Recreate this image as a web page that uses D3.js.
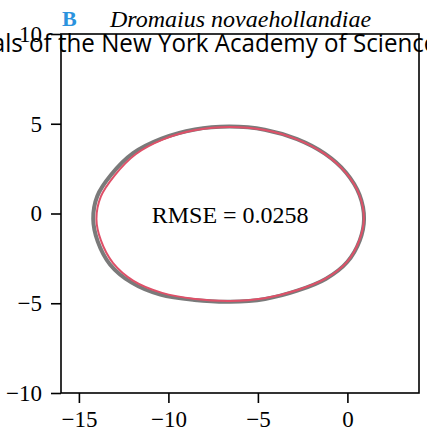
<!DOCTYPE html>
<html>
<head>
<meta charset="utf-8">
<script src="https://cdn.jsdelivr.net/npm/d3@7"></script>
<style>
  html, body { margin: 0; padding: 0; background: #fff; }
  svg { display: block; }
</style>
</head>
<body>
<svg id="chart" width="427" height="440"></svg>
<script>
// Axis ticks
const xTicks = [-15, -10, -5, 0];
const yTicks = [-10, -5, 0, 5, 10];

// Traced outline of the specimen (grey)
const outlineX = [0.93, 0.68, -0.07, -1.26, -2.81, -4.62, -6.58, -8.52, -10.38, -11.97, -13.2, -13.97, -14.2, -13.95, -13.25, -12.05, -10.45, -8.55, -6.55, -4.6, -2.8, -1.19, -0.01, 0.69];
const outlineY = [-0.3, 1.03, 2.27, 3.33, 4.14, 4.67, 4.84, 4.68, 4.17, 3.36, 2.16, 0.98, -0.3, -1.55, -2.85, -3.85, -4.52, -4.82, -4.92, -4.76, -4.3, -3.63, -2.7, -1.5];

// Fitted curve (red)
const fitX = [0.92, 0.67, -0.08, -1.27, -2.82, -4.62, -6.55, -8.48, -10.29, -11.83, -13.02, -13.77, -14.02, -13.77, -13.1, -11.95, -10.35, -8.5, -6.55, -4.62, -2.82, -1.2, -0.02, 0.67];
const fitY = [-0.3, 1.03, 2.26, 3.32, 4.13, 4.65, 4.82, 4.65, 4.13, 3.3, 2.1, 0.95, -0.3, -1.5, -2.75, -3.75, -4.42, -4.76, -4.87, -4.72, -4.28, -3.62, -2.7, -1.48];

const panelLetter = "B";
const species = "Dromaius novaehollandiae";
const journal = "Annals of the New York Academy of Sciences";
const rmseLabel = "RMSE = 0.0258";
const rmsePos = [-6.55, 0];

const svg = d3.select("#chart");
const plotL = 61, plotR = 419, plotT = 34, plotB = 393;

const x = d3.scaleLinear().domain([-16, 4]).range([plotL, plotR]);
const y = d3.scaleLinear().domain([-10, 10]).range([plotB, plotT]);

const serif = "'Liberation Serif', 'Times New Roman', serif";
const minusFmt = d => String(d).replace("-", "\u2212");

// Frame
svg.append("rect")
  .attr("x", plotL).attr("y", plotT)
  .attr("width", plotR - plotL).attr("height", plotB - plotT)
  .attr("fill", "none").attr("stroke", "#000").attr("stroke-width", 1.6);

// Axes
const xAxis = svg.append("g")
  .attr("transform", `translate(0,${plotB})`)
  .call(d3.axisBottom(x).tickValues(xTicks).tickSize(10).tickPadding(8).tickFormat(minusFmt));
const yAxis = svg.append("g")
  .attr("transform", `translate(${plotL},0)`)
  .call(d3.axisLeft(y).tickValues(yTicks).tickSize(10).tickPadding(9).tickFormat(minusFmt));

[xAxis, yAxis].forEach(g => {
  g.select(".domain").remove();
  g.selectAll(".tick line").attr("stroke", "#000").attr("stroke-width", 1.6);
  g.selectAll(".tick text")
    .attr("fill", "#000")
    .style("font-family", serif)
    .style("font-size", "23px");
});

// Outline and fit
const line = d3.line()
  .x(d => x(d[0])).y(d => y(d[1]))
  .curve(d3.curveCatmullRomClosed.alpha(0.5));

svg.append("path")
  .datum(d3.zip(outlineX, outlineY))
  .attr("d", line)
  .attr("fill", "none")
  .attr("stroke", "#7a7a7a")
  .attr("stroke-width", 4);

svg.append("path")
  .datum(d3.zip(fitX, fitY))
  .attr("d", line)
  .attr("fill", "none")
  .attr("stroke", "#df5068")
  .attr("stroke-width", 2);

svg.append("text")
  .attr("x", x(rmsePos[0])).attr("y", y(rmsePos[1]))
  .attr("dy", "0.4em")
  .attr("text-anchor", "middle")
  .style("font-family", serif)
  .style("font-size", "24px")
  .attr("fill", "#000")
  .text(rmseLabel);

// Headings
svg.append("text")
  .attr("x", 62).attr("y", 26)
  .style("font-family", serif)
  .style("font-weight", "bold")
  .style("font-size", "22px")
  .attr("fill", "#2b93de")
  .text(panelLetter);

svg.append("text")
  .attr("x", 110).attr("y", 27)
  .style("font-family", serif)
  .style("font-style", "italic")
  .style("font-size", "24px")
  .attr("fill", "#000")
  .text(species);

// Journal running head: first "of" starts at x = 29, "Sciences" at x = 353
const jt = svg.append("text")
  .attr("x", 0).attr("y", 52)
  .style("font-family", "'Open Sans', sans-serif")
  .style("font-size", "26px")
  .attr("fill", "#000")
  .text(journal);
const node = jt.node();
const natural = node.getComputedTextLength();
const iOf = journal.indexOf("of");
const iSci = journal.indexOf("Sciences");
const span = node.getStartPositionOfChar(iSci).x - node.getStartPositionOfChar(iOf).x;
jt.attr("textLength", natural * (353 - 29) / span).attr("lengthAdjust", "spacingAndGlyphs");
const ox = node.getStartPositionOfChar(iOf).x;
jt.attr("x", 29 - ox);
</script>
</body>
</html>
